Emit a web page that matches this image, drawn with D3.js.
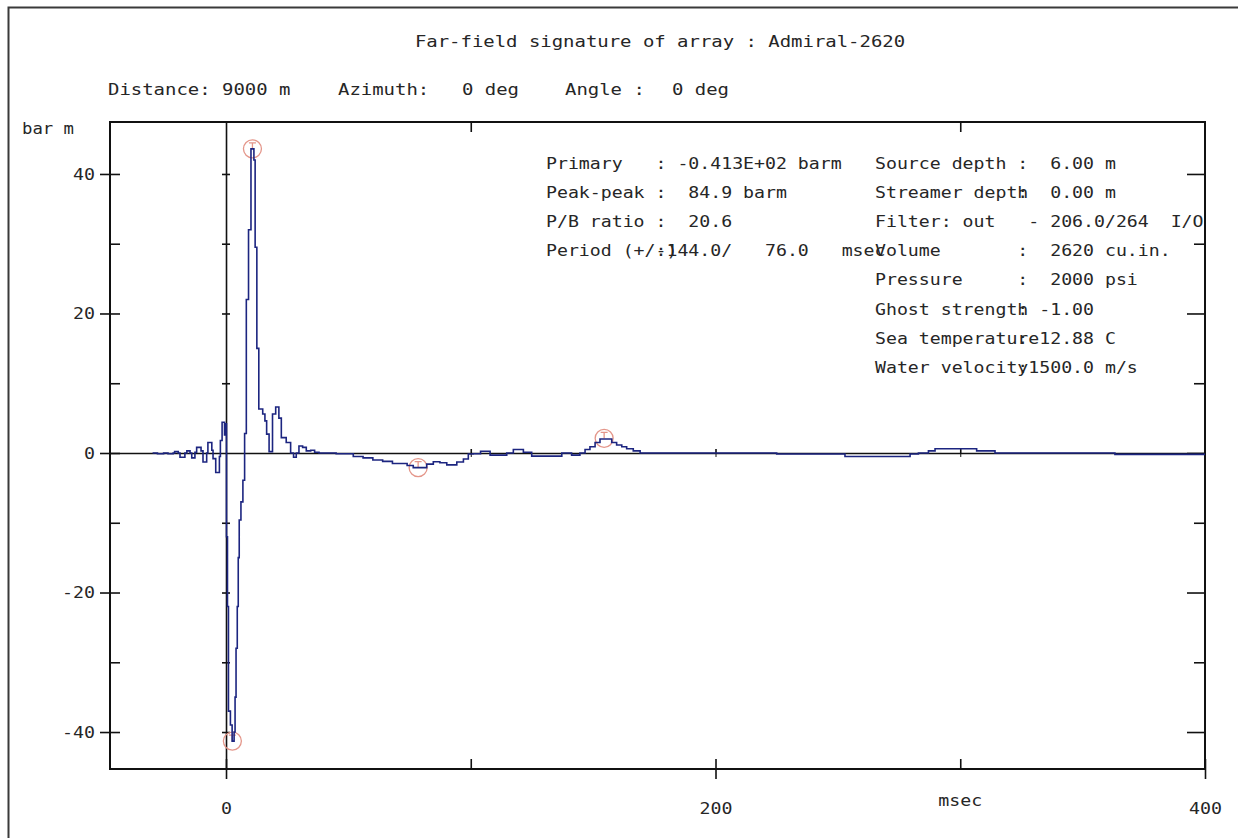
<!DOCTYPE html>
<html>
<head>
<meta charset="utf-8">
<script src="https://cdn.jsdelivr.net/npm/d3@7"></script>
<style>
body { margin: 0; background: #fff; }
text { font-family: "DejaVu Sans Mono", monospace; font-size: 16px; fill: #262626; white-space: pre; }
</style>
</head>
<body>
<svg id="chart" width="1238" height="838"></svg>
<script>
// signature samples: time (msec), pressure (bar m)
var times = [-30, -28, -25.5, -23.7, -21.6, -21, -19.5, -18.8, -16.8, -16, -14.7, -14, -12.7, -12, -10.2,
	-9.4, -7.9, -7.4, -5.8, -5.3, -4.2, -2.7, -2.3, -1.6, -0.6, -0.2, 0.2, 0.6, 1.0, 1.8, 2.5, 3.3, 3.7,
	4.1, 4.6, 5.0, 5.4, 6.1, 6.9, 7.6, 8.3, 9.2, 10.2, 11.4, 11.9, 12.6, 13.4, 15.0, 15.9, 16.6, 17.6,
	19.0, 20.3, 21.6, 22.6, 24.6, 26.4, 27.6, 28.7, 29.8, 31.3, 32.8, 34.6, 36.2, 38, 45, 52, 56, 60,
	64, 68, 74, 76.5, 82, 84.7, 87.4, 90.2, 94.3, 97, 99, 101, 104, 107.9, 114.7, 117.4, 121.5, 124.9,
	137.2, 141.2, 144.6, 146.7, 148.7, 150.8, 152.8, 157.6, 159.6, 161.7, 163.7, 166.4, 169.2, 225,
	252.9, 279.5, 282.9, 287, 289.7, 306.7, 314.2, 363.2, 400];
var pressure = [0, -0.1, 0, -0.1, 0, 0.2, 0, -0.6, 0, 0.3, 0, -0.7, 0.1, 0.8, 0.3,
	-1.3, 0, 1.5, 0.4, -0.8, -2.8, -0.5, 1.8, 4.4, 2.6, 4.2, -12, -22, -37, -39, -41.3, -40, -35,
	-28, -22, -15, -9.6, -7, -3.9, 2.8, 22, 32, 43.6, 42, 29.5, 15, 6.3, 5.6, 4.6, 2.7, 0.2,
	5.6, 6.6, 5.0, 2.2, 1.5, 0, -0.6, 0, 1.0, 0.8, 0.3, 0.4, 0.1, 0, -0.1, -0.5, -0.7, -1.0,
	-1.2, -1.5, -1.8, -2.1, -1.6, -1.25, -1.4, -1.7, -1.3, -0.85, -0.15, -0.1, 0.25, -0.3, 0, 0.5, 0.1, -0.45,
	0, -0.3, 0, 0.5, 0.9, 1.5, 2.0, 1.5, 1.15, 0.9, 0.6, 0.3, 0, -0.15,
	-0.5, -0.15, 0, 0.3, 0.6, 0.3, 0, -0.2, -0.2];

// picked events: primary, peak, bubble trough, bubble peak
var markTimes = [2.6, 10.8, 78.5, 154.5];
var markValues = [-41.3, 43.6, -2.1, 2.1];

var xTicks = [100, 200, 300, 400];
var xMajor = [0, 200, 400];
var xTopTicks = [100, 300];
var yMajor = [-40, -20, 0, 20, 40];
var yMinor = [-30, -10, 10, 30];
var zeroTicksX = [100, 200, 300];
var zeroTicksY = [-40, -30, -20, -10, 10, 20, 30, 40];

var title = "Far-field signature of array : Admiral-2620";
var subParts = ["Distance: 9000 m", "Azimuth:", "0 deg", "Angle :", "0 deg"];
var subX = [108, 338, 462, 565, 672];

var leftLabels = ["Primary", "Peak-peak", "P/B ratio", "Period (+/-)"];
var leftValues = ["-0.413E+02 barm", "84.9 barm", "20.6", "144.0/   76.0   msec"];
var leftValueCols = [12, 13, 13, 11];
var rightLabels = ["Source depth", "Streamer depth", "Filter: out   - 206.0/264  I/O", "Volume",
	"Pressure", "Ghost strength", "Sea temperature", "Water velocity"];
var rightValues = ["6.00 m", "0.00 m", "", "2620 cu.in.", "2000 psi", "-1.00", "12.88 C", "1500.0 m/s"];
var rightValueCols = [16, 16, 0, 16, 16, 15, 15, 14];

const PITCH = 10.95;
const LEFT_COL = 546;
const RIGHT_COL = 875;
const ROW0 = 168.5;
const ROW_STEP = 29.2;

var svg = d3.select("#chart");
var x = d3.scaleLinear().domain([-47.4, 400]).range([110, 1205]);
var y = d3.scaleLinear().domain([-45.3, 47.45]).range([769, 122]);

// writes a monospace string stretched to the terminal's character pitch
function mono(parent, str, px, py, pitch, anchor) {
	return parent.append("text")
		.attr("x", px)
		.attr("y", py)
		.attr("text-anchor", anchor || "start")
		.attr("textLength", str.length * pitch)
		.attr("lengthAdjust", "spacingAndGlyphs")
		.text(str);
}

// outer page border
svg.append("path")
	.attr("d", "M8.5,838V7.5H1238")
	.attr("fill", "none")
	.attr("stroke", "#3a3a3a")
	.attr("stroke-width", 2);

// plot frame
svg.append("rect")
	.attr("x", x.range()[0]).attr("y", y.range()[1])
	.attr("width", x.range()[1] - x.range()[0])
	.attr("height", y.range()[0] - y.range()[1])
	.attr("fill", "none").attr("stroke", "#111").attr("stroke-width", 2);

function clean(g) {
	g.select(".domain").remove();
	g.attr("color", "#111").selectAll("line").attr("stroke-width", 1.6);
}

// bottom axis: inner ticks everywhere, outer ticks + labels on majors
svg.append("g").attr("transform", "translate(0,769)")
	.call(d3.axisTop(x).tickValues(xTicks.concat([0])).tickSize(10).tickFormat(""))
	.call(clean);
var bottom = svg.append("g").attr("transform", "translate(0,769)")
	.call(d3.axisBottom(x).tickValues(xMajor).tickSize(10).tickPadding(24).tickFormat(d3.format("d")))
	.call(clean);
bottom.selectAll("text").each(function(d) {
	var s = String(d);
	d3.select(this).attr("font-size", null).attr("font-family", null)
		.attr("textLength", s.length * 11).attr("lengthAdjust", "spacingAndGlyphs");
});

// top axis
svg.append("g").attr("transform", "translate(0,122)")
	.call(d3.axisBottom(x).tickValues(xTopTicks).tickSize(10).tickFormat(""))
	.call(clean);

// left axis
svg.append("g").attr("transform", "translate(110,0)")
	.call(d3.axisRight(y).tickValues(yMajor.concat(yMinor)).tickSize(10).tickFormat(""))
	.call(clean);
var left = svg.append("g").attr("transform", "translate(110,0)")
	.call(d3.axisLeft(y).tickValues(yMajor).tickSize(10).tickPadding(5).tickFormat(d3.format("d")))
	.call(clean);
left.selectAll("text").each(function(d) {
	var s = String(d);
	d3.select(this).attr("font-size", null).attr("font-family", null).text(s.replace("\u2212", "-"))
		.attr("textLength", s.length * 11).attr("lengthAdjust", "spacingAndGlyphs");
});

// right axis
svg.append("g").attr("transform", "translate(1205,0)")
	.call(d3.axisLeft(y).tickValues(yMajor).tickSize(18).tickFormat(""))
	.call(clean);
svg.append("g").attr("transform", "translate(1205,0)")
	.call(d3.axisLeft(y).tickValues(yMinor).tickSize(11).tickFormat(""))
	.call(clean);

// zero lines with small crossing ticks
var zx = svg.append("g").attr("transform", "translate(0," + y(0) + ")")
	.call(d3.axisBottom(x).tickValues(zeroTicksX).tickSize(4).tickSizeOuter(0).tickFormat(""));
zx.attr("color", "#111").select(".domain").attr("stroke-width", 1.3);
svg.append("g").attr("transform", "translate(0," + y(0) + ")")
	.call(d3.axisTop(x).tickValues(zeroTicksX).tickSize(4).tickFormat(""))
	.call(clean);
var zy = svg.append("g").attr("transform", "translate(" + x(0) + ",0)")
	.call(d3.axisLeft(y).tickValues(zeroTicksY).tickSize(4).tickSizeOuter(0).tickFormat(""));
zy.attr("color", "#111").select(".domain").attr("stroke-width", 1.6);
zy.selectAll("line").attr("stroke-width", 1.6);
svg.append("g").attr("transform", "translate(" + x(0) + ",0)")
	.call(d3.axisRight(y).tickValues(zeroTicksY).tickSize(4).tickFormat(""))
	.call(clean);

// event markers
var marks = svg.append("g").attr("fill", "none").attr("stroke", "#e4968a").attr("stroke-width", 1.3);
markTimes.forEach(function(t, i) {
	var cx = x(t), cy = y(markValues[i]);
	marks.append("circle").attr("cx", cx).attr("cy", cy).attr("r", 9);
	marks.append("path").attr("d", "M" + (cx - 3.5) + "," + (cy - 6) + "H" + (cx + 3.5) + "M" + cx + "," + (cy - 6) + "V" + cy);
});

// signature trace
var line = d3.line()
	.x(function(d) { return x(d[0]); })
	.y(function(d) { return y(d[1]); })
	.curve(d3.curveStepAfter);
svg.append("path")
	.datum(d3.zip(times, pressure))
	.attr("d", line)
	.attr("fill", "none")
	.attr("stroke", "#1c2580")
	.attr("stroke-width", 1.6);

// titles
mono(svg, title, 660, 47, 11.4, "middle");
subParts.forEach(function(s, i) { mono(svg, s, subX[i], 95, 11.4); });
svg.append("text").attr("x", 22).attr("y", 134).text("bar m")
	.attr("textLength", 5 * 10.4).attr("lengthAdjust", "spacingAndGlyphs");
mono(svg, "msec", x(300), 806, 11, "middle");

// parameter block
var info = svg.append("g");
leftLabels.forEach(function(s, i) {
	var py = ROW0 + i * ROW_STEP;
	mono(info, s, LEFT_COL, py, PITCH);
	mono(info, ":", LEFT_COL + 10 * PITCH, py, PITCH);
	mono(info, leftValues[i], LEFT_COL + leftValueCols[i] * PITCH, py, PITCH);
});
rightLabels.forEach(function(s, i) {
	var py = ROW0 + i * ROW_STEP;
	mono(info, s, RIGHT_COL, py, PITCH);
	if (rightValues[i]) {
		mono(info, ":", RIGHT_COL + 13 * PITCH, py, PITCH);
		mono(info, rightValues[i], RIGHT_COL + rightValueCols[i] * PITCH, py, PITCH);
	}
});
</script>
</body>
</html>
